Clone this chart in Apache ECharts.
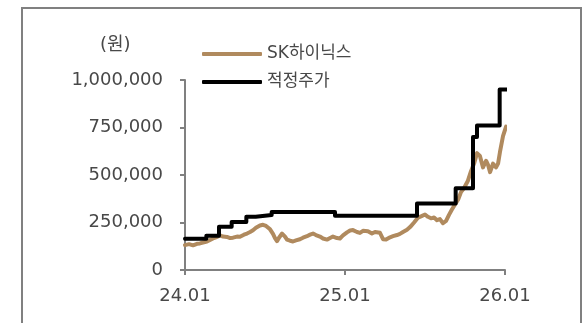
<!DOCTYPE html>
<html>
<head>
<meta charset="utf-8">
<script src="https://cdn.jsdelivr.net/npm/echarts@6/dist/echarts.min.js"></script>
<style>
  html, body { margin: 0; padding: 0; background: #fff; }
  #chart { width: 587px; height: 323px; }
</style>
</head>
<body>
<div id="chart"></div>
<script>
// x values are months since 2024-01
const xTickLabels = ['24.01', '25.01', '26.01'];
const seriesNames = ['SK하이닉스', '적정주가'];
const unitLabel = '(원)';

const priceMonths = [
  0, 0.3, 0.6, 0.9, 1.12, 1.42, 1.65, 1.88, 2.1, 2.32, 2.62, 2.85, 3.15, 3.38, 3.6, 3.9,
  4.12, 4.42, 4.65, 4.88, 5.1, 5.32, 5.62, 5.85, 6.08, 6.22, 6.38, 6.6, 6.75, 6.9, 7.05, 7.28,
  7.5, 7.65, 7.88, 8.1, 8.32, 8.62, 8.85, 9.15, 9.38, 9.6, 9.82, 10.12, 10.35, 10.65, 10.88, 11.1,
  11.4, 11.62, 11.85, 12.15, 12.38, 12.6, 12.9, 13.12, 13.35, 13.5, 13.72, 14.02, 14.25, 14.4, 14.62, 14.85,
  15.08, 15.38, 15.6, 15.9, 16.12, 16.35, 16.65, 16.88, 17.18, 17.48, 17.7, 18.0, 18.22, 18.45, 18.68, 18.9,
  19.12, 19.35, 19.58, 19.8, 20.02, 20.25, 20.48, 20.7, 20.92, 21.22, 21.45, 21.68, 21.9, 22.12, 22.35, 22.58,
  22.72, 22.88, 23.1, 23.32, 23.48, 23.62, 23.85, 24.08
];
const priceValues = [
  131000, 136000, 130000, 138000, 140000, 146000, 150000, 158000, 166000, 172000, 182000, 176000, 174000, 168000, 170000, 176000,
  175000, 186000, 192000, 200000, 209000, 222000, 234000, 238000, 232000, 236000, 214000, 190000, 168000, 152000, 170000, 192000,
  176000, 160000, 154000, 150000, 156000, 162000, 170000, 178000, 186000, 192000, 184000, 176000, 166000, 160000, 168000, 176000,
  168000, 166000, 182000, 198000, 208000, 210000, 200000, 195000, 206000, 213000, 204000, 192000, 200000, 209000, 196000, 162000,
  160000, 172000, 178000, 184000, 190000, 200000, 212000, 226000, 250000, 276000, 282000, 292000, 280000, 272000, 276000, 262000,
  268000, 246000, 258000, 290000, 318000, 345000, 370000, 410000, 430000, 470000, 520000, 560000, 615000, 600000, 540000, 575000,
  555000, 515000, 560000, 540000, 560000, 620000, 705000, 755000
];

const targetMonths = [0, 1.6, 2.55, 3.5, 4.6, 5.3, 6.5, 11.25, 17.4, 20.3, 21.6, 21.9, 23.6, 24.1];
const targetValues = [165000, 180000, 228000, 253000, 280000, 290000, 305000, 285000, 350000, 430000, 700000, 760000, 950000, 950000];

const priceData = priceMonths.map((m, i) => [m, priceValues[i]]);
const targetData = targetMonths.map((m, i) => [m, targetValues[i]]);

const axisColor = '#808080';
const textColor = '#484848';
const fontFamily = '"DejaVu Sans", "Noto Sans CJK KR", sans-serif';

const chart = echarts.init(document.getElementById('chart'), null, { renderer: 'canvas' });
chart.setOption({
  animation: false,
  backgroundColor: '#fff',
  grid: { left: 185, right: 82, top: 80, bottom: 53 },
  legend: {
    orient: 'vertical',
    left: 202,
    top: 44,
    padding: 0,
    itemWidth: 60,
    itemHeight: 4,
    itemGap: 8,
    icon: 'roundRect',
    textStyle: { color: textColor, fontSize: 17, fontFamily: fontFamily, lineHeight: 20 },
    data: seriesNames
  },
  graphic: [
    {
      type: 'rect',
      shape: { x: 22, y: 8, width: 559, height: 340 },
      style: { fill: 'none', stroke: '#808080', lineWidth: 2 },
      silent: true
    },
    {
      type: 'text',
      left: 100,
      top: 36,
      style: { text: unitLabel, fill: textColor, fontSize: 18, fontFamily: fontFamily }
    }
  ],
  xAxis: {
    type: 'value',
    min: 0,
    max: 24,
    interval: 12,
    axisLine: { show: true, lineStyle: { color: axisColor, width: 2 } },
    axisTick: { show: true, length: 5, lineStyle: { color: axisColor, width: 2 } },
    splitLine: { show: false },
    axisLabel: {
      margin: 17,
      color: textColor,
      fontSize: 18,
      fontFamily: fontFamily,
      formatter: v => xTickLabels[Math.round(v / 12)] || ''
    }
  },
  yAxis: {
    type: 'value',
    min: 0,
    max: 1000000,
    interval: 250000,
    axisLine: { show: true, lineStyle: { color: axisColor, width: 2 } },
    axisTick: { show: true, length: 5, lineStyle: { color: axisColor, width: 2 } },
    splitLine: { show: false },
    axisLabel: {
      margin: 22,
      color: textColor,
      fontSize: 18,
      fontFamily: fontFamily,
      formatter: v => v.toLocaleString('en-US')
    }
  },
  series: [
    {
      name: seriesNames[0],
      type: 'line',
      data: priceData,
      showSymbol: false,
      symbol: 'none',
      clip: false,
      color: '#B08A5E',
      lineStyle: { color: '#B08A5E', width: 4, join: 'round', cap: 'round' }
    },
    {
      name: seriesNames[1],
      type: 'line',
      data: targetData,
      step: 'end',
      showSymbol: false,
      symbol: 'none',
      clip: false,
      color: '#000',
      lineStyle: { color: '#000', width: 4, join: 'round', cap: 'round' }
    }
  ]
});
</script>
</body>
</html>
